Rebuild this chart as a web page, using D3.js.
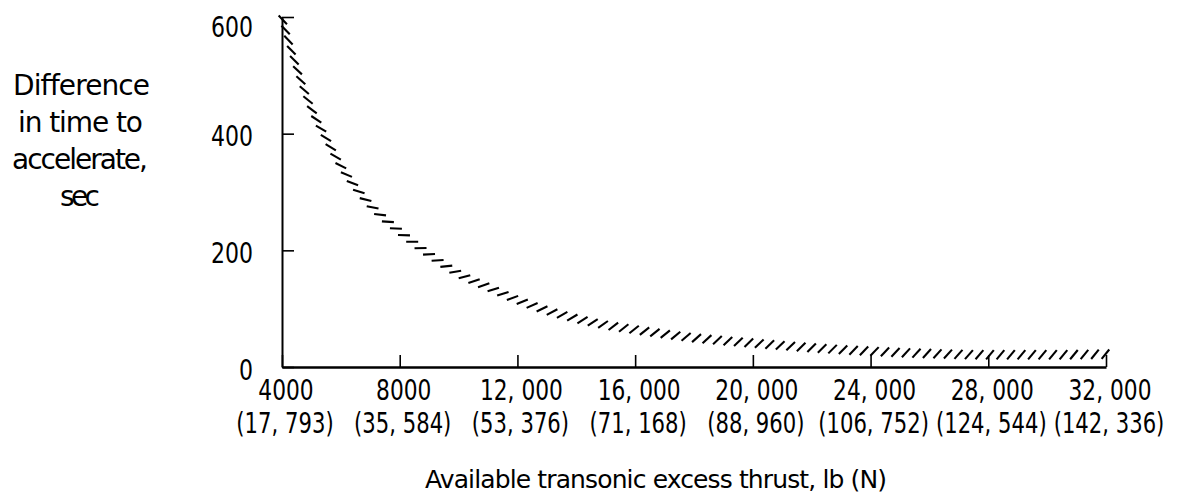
<!DOCTYPE html>
<html><head><meta charset="utf-8">
<script src="https://cdn.jsdelivr.net/npm/d3@7"></script>
<style>
body{margin:0;background:#fff}
text{font-family:"DejaVu Sans",sans-serif;fill:#000}
</style>
</head><body>
<svg id="c" width="1183" height="493"></svg>
<script>
// ---- data ----
const thrustLb = [4000,4500,5000,5500,6000,6500,7000,8000,9000,10000,11000,12000,13000,14000,15000,16000,18000,20000,22000,24000,26000,28000,30000,32000];
const timeSec  = [600,513,443,392,345,308,278,232,193,160,137,115,97,83,72,64,50,41,33,27,23,21,21,22];
const xTicks = [4000,8000,12000,16000,20000,24000,28000,32000];
const xTickLabels = ["4000","8000","12, 000","16, 000","20, 000","24, 000","28, 000","32, 000"];
const xTickLabelsN = ["(17, 793)","(35, 584)","(53, 376)","(71, 168)","(88, 960)","(106, 752)","(124, 544)","(142, 336)"];
const yTicks = [0,200,400,600];
const yLabelLines = ["Difference","in time to","accelerate,","sec"];
const xTitle = "Available transonic excess thrust,  lb (N)";

const svg = d3.select("#c");
const x = d3.scaleLinear().domain([4000,32000]).range([282,1106]);
const y = d3.scaleLinear().domain([0,600]).range([367,17]);

// narrow lettering: horizontal scale about the anchor point
function condense(sel, f){
  sel.each(function(){
    const t = d3.select(this);
    const tx = +t.attr("x") || 0, ty = +t.attr("y") || 0;
    t.attr("x",0).attr("y",0).attr("transform",`translate(${tx},${ty}) scale(${f},1)`);
  });
}

// y axis
const gy = svg.append("g").attr("transform","translate(282,0)")
  .call(d3.axisLeft(y).tickValues(yTicks).tickSizeInner(-12).tickSizeOuter(0).tickPadding(29).tickFormat(d3.format("d")));
gy.select(".domain").attr("stroke","#000").attr("stroke-width",2);
gy.selectAll(".tick line").attr("stroke","#000").attr("stroke-width",1.6);
gy.selectAll(".tick text").attr("font-size",29).attr("font-family",null)
  .attr("dy",d=>d===600?"0.68em":"0.42em");
condense(gy.selectAll(".tick text"),0.76);

// x axis
const gx = svg.append("g").attr("transform","translate(0,367)")
  .call(d3.axisBottom(x).tickValues(xTicks).tickSizeInner(-12).tickSizeOuter(0).tickFormat(""));
gx.select(".domain").attr("stroke","#000").attr("stroke-width",2.4);
gx.selectAll(".tick line").attr("stroke","#000").attr("stroke-width",1.6);
gx.selectAll(".tick text").remove();

// x tick labels (two rows)
const r1 = svg.append("g").selectAll("text").data(xTicks).join("text")
  .attr("x",(d)=>x(d)+4).attr("y",400).attr("text-anchor","middle").attr("font-size",29)
  .text((d,i)=>xTickLabels[i]);
condense(r1,0.75);
const r2 = svg.append("g").selectAll("text").data(xTicks).join("text")
  .attr("x",(d)=>x(d)+3).attr("y",433).attr("text-anchor","middle").attr("font-size",29)
  .text((d,i)=>xTickLabelsN[i]);
condense(r2,0.73);

// y label
const yLab = [[13,95,137],[18,132,125],[12,169,136],[60,206,40]];
svg.append("g").selectAll("text").data(yLabelLines).join("text")
  .attr("x",(d,i)=>yLab[i][0]).attr("y",(d,i)=>yLab[i][1])
  .attr("textLength",(d,i)=>yLab[i][2]).attr("lengthAdjust","spacing")
  .attr("font-size",28).text(d=>d);

// x title
svg.append("text").attr("x",425).attr("y",488).attr("font-size",25)
  .attr("textLength",462).attr("lengthAdjust","spacing").text(xTitle);

// hatched curve
const line = d3.line().x((d,i)=>x(thrustLb[i])).y((d,i)=>y(timeSec[i])).curve(d3.curveMonotoneX);
const guide = svg.append("path").attr("d",line(timeSec)).attr("fill","none").attr("stroke","none");
const node = guide.node();
const total = node.getTotalLength();
const step = 10.5, L = 12, deg = Math.PI/180;
// hatch angle relative to the local curve direction
const relAngle = d3.scaleLinear().domain([0,30,75]).range([-50,-40,-28]).clamp(true);
const hatches = d3.range(3, total, step).map(s=>{
  const p = node.getPointAtLength(s);
  const q = node.getPointAtLength(Math.min(total, s+1));
  const r = node.getPointAtLength(Math.max(0, s-1));
  const tang = Math.atan2(q.y-r.y, q.x-r.x)/deg;
  return {p, a: (tang + relAngle(tang))*deg};
});
svg.append("g").selectAll("line").data(hatches).join("line")
  .attr("x1",h=>h.p.x - Math.cos(h.a)*L/2).attr("y1",h=>h.p.y - Math.sin(h.a)*L/2)
  .attr("x2",h=>h.p.x + Math.cos(h.a)*L/2).attr("y2",h=>h.p.y + Math.sin(h.a)*L/2)
  .attr("stroke","#000").attr("stroke-width",2.1);
</script>
</body></html>
